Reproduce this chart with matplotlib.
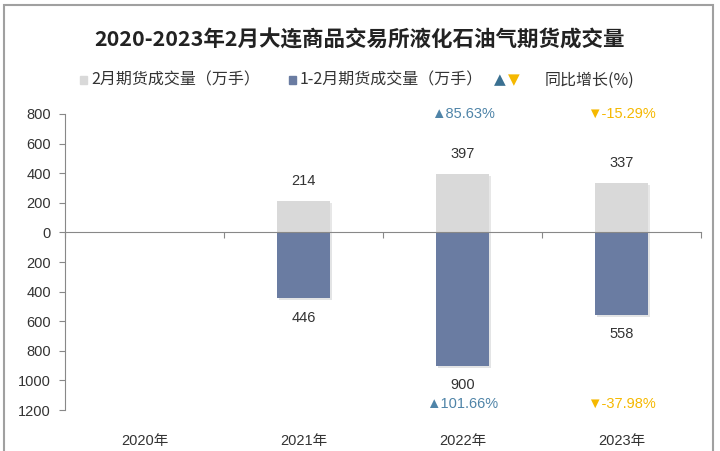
import numpy as np
import matplotlib.pyplot as plt
import matplotlib.patheffects as pe
from matplotlib.patches import Rectangle
from matplotlib.transforms import blended_transform_factory

plt.rcParams['font.family'] = ['Liberation Sans', 'Noto Sans CJK SC', 'DejaVu Sans']

years = ['2020年', '2021年', '2022年', '2023年']
feb_volume = [0, 214, 397, 337]          # 2月期货成交量(万手)
janfeb_volume = [0, 446, 900, 558]       # 1-2月期货成交量(万手)
feb_growth = [None, None, 85.63, -15.29]
janfeb_growth = [None, None, 101.66, -37.98]
yticks = [800, 600, 400, 200, 0, -200, -400, -600, -800, -1000, -1200]

c_feb = '#d9d9d9'
c_janfeb = '#6a7ca2'
c_up = '#3a7091'
c_up_txt = '#4f84a8'
c_down = '#f5b800'

fig = plt.figure(figsize=(7.2, 4.51), dpi=100)
ax = fig.add_axes([65 / 720, 1 - 410 / 451, 636 / 720, 296 / 451])

# frame around the figure
fig.patches.append(Rectangle((4 / 720, -0.1), 709 / 720, 1.1 - 5 / 451, transform=fig.transFigure,
                             fill=False, edgecolor='#a0a0a0', linewidth=1.5))

x = np.arange(len(years))
shadow = [pe.SimplePatchShadow(offset=(1.5, -1.5), alpha=0.12), pe.Normal()]
b1 = ax.bar(x, feb_volume, width=0.33, color=c_feb, zorder=2)
b2 = ax.bar(x, [-v for v in janfeb_volume], width=0.33, color=c_janfeb, zorder=2)
for b in list(b1) + list(b2):
    b.set_path_effects(shadow)

ax.set_xlim(-0.5, len(years) - 0.5)
ax.set_ylim(-1200, 800)
ax.set_yticks(yticks)
ax.set_yticklabels([str(abs(v)) for v in yticks], fontsize=10.5, color='#333333')

for s in ['top', 'right']:
    ax.spines[s].set_visible(False)
ax.spines['left'].set_color('#888888')
ax.spines['bottom'].set_position(('data', 0))
ax.spines['bottom'].set_color('#888888')
ax.spines['bottom'].set_zorder(3)
ax.tick_params(axis='y', length=4, color='#888888', pad=6)
ax.set_xticks(np.arange(-0.5, len(years)), [''] * (len(years) + 1))
ax.tick_params(axis='x', length=4, color='#888888')

trans = blended_transform_factory(ax.transData, fig.transFigure)
for i, yr in enumerate(years):
    ax.text(i, 1 - 441 / 451, yr, transform=trans, ha='center', va='center',
            fontsize=10.5, color='#333333')

for i in range(len(years)):
    if feb_volume[i]:
        ax.annotate(str(feb_volume[i]), (i, feb_volume[i]), xytext=(0, 14),
                    textcoords='offset points', ha='center', va='center',
                    fontsize=10.5, color='#333333')
    if janfeb_volume[i]:
        ax.annotate(str(janfeb_volume[i]), (i, -janfeb_volume[i]), xytext=(0, -14),
                    textcoords='offset points', ha='center', va='center',
                    fontsize=10.5, color='#333333')
    for g, yy in [(feb_growth[i], 800), (janfeb_growth[i], -1160)]:
        if g is None:
            continue
        mark, col = ('▲', c_up_txt) if g >= 0 else ('▼', c_down)
        ax.text(i, yy, mark + f'{g:.2f}%', ha='center', va='center',
                fontsize=10.5, color=col, family=['Liberation Sans', 'DejaVu Sans'])

fig.text(0.5, 1 - 40 / 451, '2020-2023年2月大连商品交易所液化石油气期货成交量', ha='center', va='center',
         fontsize=15.5, fontweight='bold', color='#222222', family=['Noto Sans CJK SC'])

ly = 1 - 80 / 451
fig.patches.append(Rectangle((80 / 720, ly - 4 / 451), 7 / 720, 8 / 451, transform=fig.transFigure,
                             color=c_feb))
fig.text(91 / 720, ly, '2月期货成交量（万手）', ha='left', va='center', fontsize=11.5,
         color='#333333', family=['Noto Sans CJK SC'])
fig.patches.append(Rectangle((289 / 720, ly - 4 / 451), 7 / 720, 8 / 451, transform=fig.transFigure,
                             color=c_janfeb))
fig.text(300 / 720, ly, '1-2月期货成交量（万手）', ha='left', va='center', fontsize=11.5,
         color='#333333', family=['Noto Sans CJK SC'])
fig.text(500 / 720, ly, '▲', ha='center', va='center', fontsize=11, color=c_up, family=['DejaVu Sans'])
fig.text(514 / 720, ly, '▼', ha='center', va='center', fontsize=11, color=c_down, family=['DejaVu Sans'])
fig.text(545 / 720, ly, '同比增长(%)', ha='left', va='center', fontsize=11.5,
         color='#333333', family=['Noto Sans CJK SC'])

fig.savefig('out.png', dpi=100)
